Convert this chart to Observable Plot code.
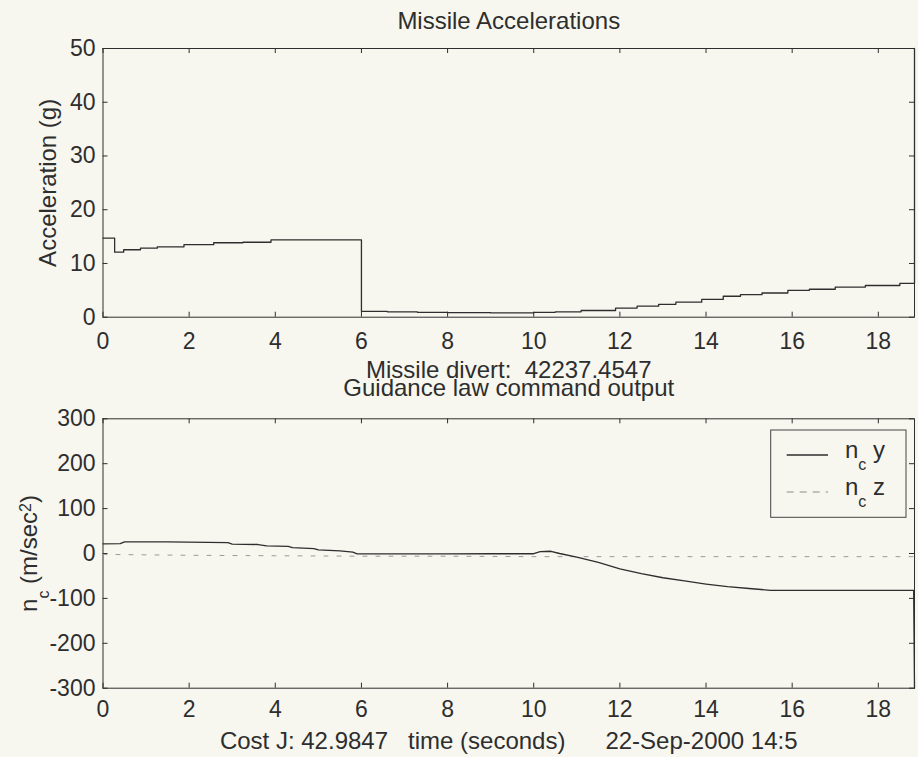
<!DOCTYPE html>
<html><head><meta charset="utf-8">
<script src="https://cdn.jsdelivr.net/npm/d3@7"></script>
<script src="https://cdn.jsdelivr.net/npm/@observablehq/plot@0.6"></script>
<style>
body{margin:0;background:#f7f7f0;}
#wrap{position:relative;width:918px;height:757px;font-family:"Liberation Sans",Arial,Helvetica,sans-serif;color:#2e2e2e;}
#wrap svg{display:block;}
#legend{position:absolute;left:0;top:0;pointer-events:none;}
</style></head><body><div id="wrap"></div>
<script>
// ---- data ----
const accTime  = [0, 0.27, 0.48, 0.87, 1.26, 1.88, 2.57, 3.25, 3.9, 6.0, 6.6, 7.3, 8.0, 9.0, 10.0, 10.5, 11.1, 11.9, 12.4, 12.9, 13.3, 13.9, 14.4, 14.8, 15.3, 15.9, 16.4, 17.0, 17.7, 18.5, 18.82, 18.84];
const accValue = [14.7, 12.1, 12.55, 12.85, 13.1, 13.5, 13.85, 13.95, 14.4, 1.1, 1.0, 0.9, 0.85, 0.8, 0.9, 1.0, 1.25, 1.7, 2.05, 2.4, 2.8, 3.3, 3.9, 4.2, 4.5, 5.0, 5.2, 5.6, 5.9, 6.3, 6.3, 50];
const ncTime = [0, 0.4, 0.5, 1.5, 2.9, 3.0, 3.6, 3.8, 4.3, 4.4, 4.9, 5.0, 5.5, 5.8, 5.9, 7.0, 8.0, 9.0, 10.0, 10.15, 10.4, 10.6, 11.0, 11.5, 12.0, 12.5, 13.0, 13.5, 14.0, 14.5, 15.0, 15.5, 16.0, 18.82, 18.84];
const ncY    = [21.5, 22, 26, 26, 24, 21, 20, 17, 16, 13, 11, 8, 6, 3, -1, -1, -1, -0.5, -0.5, 4, 5, 0, -8, -20, -34, -45, -54, -61, -68, -74, -78, -82, -82, -82, -300];
const nczTime = [0, 2, 4, 6, 8, 10, 12, 14, 16, 18.84];
const ncZ     = [-2, -4, -5, -6, -6, -7, -7, -7, -7, -7];
const timeTicks = [0, 2, 4, 6, 8, 10, 12, 14, 16, 18];
const accTicks = [0, 10, 20, 30, 40, 50];
const ncTicks = [-300, -200, -100, 0, 100, 200, 300];
const timeDomain = [0, 18.84];
const titleTop = "Missile Accelerations";
const divertLabel = "Missile divert:  42237.4547";
const titleBottom = "Guidance law command output";
const captionBottom = "Cost J: 42.9847   time (seconds)      22-Sep-2000 14:5";
const accLabel = "Acceleration (g)";
const legendSeries = ["y", "z"];

// ---- layout ----
const W = 918, L = 102.5, R = 914;
const ink = "#2e2e2e";
const font = '"Liberation Sans", Arial, Helvetica, sans-serif';
const FW = R - L;
const fmt = d => String(d);

function inwardTicks(xt, yt, fh) {
  const len = 5;
  return [
    Plot.tickX(xt, {x: d => d, insetTop: fh - len, stroke: ink}),
    Plot.tickX(xt, {x: d => d, insetBottom: fh - len, stroke: ink}),
    Plot.tickY(yt, {y: d => d, insetRight: FW - len, stroke: ink}),
    Plot.tickY(yt, {y: d => d, insetLeft: FW - len, stroke: ink})
  ];
}

const wrap = document.getElementById("wrap");

// chart 1
const top1 = 48, bot1 = 316.7, H1 = 400;
const acc = accTime.map((t, i) => ({t, v: accValue[i]}));
const p1 = Plot.plot({
  width: W, height: H1,
  marginLeft: L, marginRight: W - R, marginTop: top1, marginBottom: H1 - bot1,
  x: {domain: timeDomain, label: null},
  y: {domain: [0, 50], label: null},
  style: {background: "transparent", fontSize: "23px", fontFamily: font, color: ink, overflow: "visible"},
  marks: [
    Plot.axisX(timeTicks, {tickSize: 0, tickPadding: 15, label: null, tickFormat: fmt}),
    Plot.axisY(accTicks, {tickSize: 0, tickPadding: 7.5, label: null, tickFormat: fmt}),
    ...inwardTicks(timeTicks, accTicks, bot1 - top1),
    Plot.frame({stroke: ink}),
    Plot.line(acc, {x: "t", y: "v", curve: "step-after", stroke: ink, strokeWidth: 1.3}),
    Plot.text([titleTop], {text: d => d, frameAnchor: "top", lineAnchor: "bottom", dy: -20, fontSize: 24}),
    Plot.text([divertLabel], {text: d => d, frameAnchor: "bottom", lineAnchor: "bottom", dy: 60.8, fontSize: 24}),
    Plot.text([titleBottom], {text: d => d, frameAnchor: "bottom", lineAnchor: "bottom", dy: 78.8, fontSize: 24}),
    Plot.text([accLabel], {text: d => d, frameAnchor: "left", textAnchor: "middle", rotate: -90, lineAnchor: "bottom", dx: -47.5, fontSize: 24})
  ]
});
wrap.appendChild(p1);

// chart 2
const top2 = 418.3 - H1, bot2 = 687.7 - H1, H2 = 757 - H1;
const ncyData = ncTime.map((t, i) => ({t, v: ncY[i]}));
const nczData = nczTime.map((t, i) => ({t, v: ncZ[i]}));
const ncPlain = "nc (m/sec2)";
const p2 = Plot.plot({
  width: W, height: H2,
  marginLeft: L, marginRight: W - R, marginTop: top2, marginBottom: H2 - bot2,
  x: {domain: timeDomain, label: null},
  y: {domain: [-300, 300], label: null},
  style: {background: "transparent", fontSize: "23px", fontFamily: font, color: ink, overflow: "visible"},
  marks: [
    Plot.axisX(timeTicks, {tickSize: 0, tickPadding: 12.7, label: null, tickFormat: fmt}),
    Plot.axisY(ncTicks, {tickSize: 0, tickPadding: 7.5, label: null, tickFormat: fmt}),
    ...inwardTicks(timeTicks, ncTicks, bot2 - top2),
    Plot.frame({stroke: ink}),
    Plot.line(nczData, {x: "t", y: "v", stroke: "#9a9a9a", strokeWidth: 1, strokeDasharray: "4,9"}),
    Plot.line(ncyData, {x: "t", y: "v", stroke: ink, strokeWidth: 1.3}),
    Plot.text([captionBottom], {text: d => d, frameAnchor: "bottom", lineAnchor: "bottom", dy: 60.6, fontSize: 24}),
    Plot.text([ncPlain], {text: d => d, frameAnchor: "left", textAnchor: "middle", rotate: -90, lineAnchor: "bottom", dx: -65.8, fontSize: 24})
  ]
});
wrap.appendChild(p2);

// rich y label with sub/superscript
const yl = [...p2.querySelectorAll("text")].find(t => t.textContent === ncPlain);
if (yl) {
  const s = d3.select(yl);
  s.text(null);
  s.append("tspan").text("n");
  s.append("tspan").attr("dy", 11.7).attr("font-size", 16).text("c");
  s.append("tspan").attr("dy", -11.7).text(" (m/sec");
  s.append("tspan").attr("dy", -6).attr("font-size", 16).text("2");
  s.append("tspan").attr("dy", 6).text(")");
}
document.querySelectorAll("#wrap text").forEach(t => t.setAttribute("xml:space", "preserve"));

// legend overlay
const lg = d3.select(wrap).append("svg").attr("id", "legend").attr("width", W).attr("height", 757)
  .style("font-family", font).style("font-size", "24px");
lg.append("rect").attr("x", 770.7).attr("y", 430).attr("width", 135.3).attr("height", 87.3)
  .attr("fill", "#f7f7f0").attr("stroke", "#444").attr("stroke-width", 1);
const styles = [{stroke: ink, dash: null, w: 1.3}, {stroke: "#8a8a8a", dash: "7,6", w: 1}];
legendSeries.forEach((s, i) => {
  const by = 458.3 + i * 37;
  lg.append("line").attr("x1", 786.7).attr("x2", 828).attr("y1", by - 3.3).attr("y2", by - 3.3)
    .attr("stroke", styles[i].stroke).attr("stroke-width", styles[i].w).attr("stroke-dasharray", styles[i].dash);
  const t = lg.append("text").attr("x", 845).attr("y", by).attr("fill", ink).attr("xml:space", "preserve");
  t.append("tspan").text("n");
  t.append("tspan").attr("dy", 11.7).attr("font-size", 16).text("c");
  t.append("tspan").attr("dy", -11.7).text(" " + s);
});
</script></body></html>
